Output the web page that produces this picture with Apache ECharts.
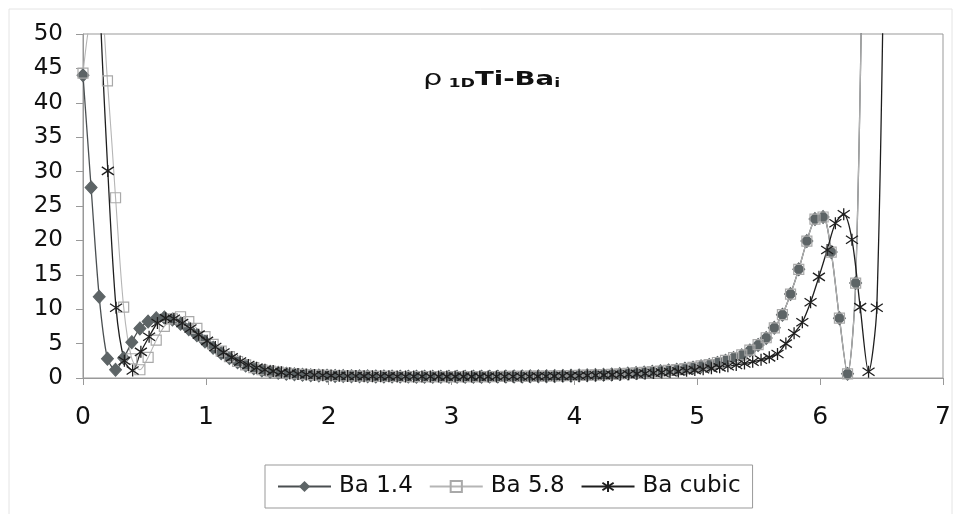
<!DOCTYPE html>
<html>
<head>
<meta charset="utf-8">
<script src="https://cdn.jsdelivr.net/npm/echarts@6/dist/echarts.min.js"></script>
<style>
  html, body { margin: 0; padding: 0; background: #fff; }
  #main { width: 961px; height: 514px; }
</style>
</head>
<body>
<div id="main"></div>
<script>
// x positions of the points (Ba 1.4 and Ba 5.8 share one grid, cubic has its own)
var xBa = [0, 0.066, 0.132, 0.199, 0.265, 0.331, 0.397, 0.463, 0.530, 0.596,
  0.662, 0.728, 0.794, 0.861, 0.927, 0.993, 1.059, 1.125, 1.192, 1.258,
  1.324, 1.390, 1.456, 1.523, 1.589, 1.655, 1.721, 1.787, 1.854, 1.920,
  1.986, 2.052, 2.118, 2.185, 2.251, 2.317, 2.383, 2.449, 2.516, 2.582,
  2.648, 2.714, 2.780, 2.847, 2.913, 2.979, 3.045, 3.111, 3.178, 3.244,
  3.310, 3.376, 3.442, 3.509, 3.575, 3.641, 3.707, 3.773, 3.840, 3.906,
  3.972, 4.038, 4.104, 4.171, 4.237, 4.303, 4.369, 4.435, 4.502, 4.568,
  4.634, 4.700, 4.766, 4.833, 4.899, 4.965, 5.031, 5.097, 5.164, 5.230,
  5.296, 5.362, 5.428, 5.495, 5.561, 5.627, 5.693, 5.759, 5.826, 5.892,
  5.958, 6.024, 6.090, 6.157, 6.223, 6.289, 6.355];

var xCubic = [0, 0.067, 0.135, 0.202, 0.269, 0.337, 0.404, 0.471, 0.538, 0.606,
  0.673, 0.740, 0.808, 0.875, 0.942, 1.010, 1.077, 1.144, 1.211, 1.279,
  1.346, 1.413, 1.481, 1.548, 1.615, 1.683, 1.750, 1.817, 1.884, 1.952,
  2.019, 2.086, 2.154, 2.221, 2.288, 2.356, 2.423, 2.490, 2.557, 2.625,
  2.692, 2.759, 2.827, 2.894, 2.961, 3.029, 3.096, 3.163, 3.230, 3.298,
  3.365, 3.432, 3.500, 3.567, 3.634, 3.702, 3.769, 3.836, 3.903, 3.971,
  4.038, 4.105, 4.173, 4.240, 4.307, 4.375, 4.442, 4.509, 4.576, 4.644,
  4.711, 4.778, 4.846, 4.913, 4.980, 5.048, 5.115, 5.182, 5.249, 5.317,
  5.384, 5.451, 5.519, 5.586, 5.653, 5.721, 5.788, 5.855, 5.922, 5.990,
  6.057, 6.124, 6.192, 6.259, 6.326, 6.394, 6.461, 6.528];

var ba14 = [44.0, 27.7, 11.8, 2.8, 1.2, 2.9, 5.2, 7.2, 8.2, 8.7,
  8.8, 8.5, 7.9, 7.1, 6.2, 5.3, 4.4, 3.6, 2.9, 2.3,
  1.8, 1.4, 1.1, 0.9, 0.75, 0.62, 0.53, 0.46, 0.4, 0.36,
  0.33, 0.3, 0.28, 0.26, 0.25, 0.24, 0.23, 0.22, 0.21, 0.2,
  0.2, 0.19, 0.19, 0.18, 0.18, 0.18, 0.18, 0.18, 0.19, 0.19,
  0.2, 0.2, 0.21, 0.22, 0.23, 0.24, 0.25, 0.27, 0.29, 0.31,
  0.34, 0.37, 0.4, 0.43, 0.47, 0.52, 0.58, 0.65, 0.72, 0.8,
  0.9, 1.0, 1.1, 1.2, 1.35, 1.5, 1.7, 1.9, 2.2, 2.5,
  2.9, 3.3, 4.0, 4.8, 5.8, 7.3, 9.2, 12.2, 15.8, 19.9,
  23.1, 23.4, 18.3, 8.7, 0.6, 13.8, 75];

var ba58 = [44.3, 53, 56, 43.2, 26.2, 10.3, 2.8, 1.2, 3.0, 5.5,
  7.5, 8.6, 8.9, 8.2, 7.2, 6.0, 4.9, 3.9, 3.1, 2.4,
  1.9, 1.5, 1.2, 1.0, 0.85, 0.72, 0.62, 0.54, 0.48, 0.43,
  0.39, 0.36, 0.32, 0.3, 0.28, 0.26, 0.25, 0.24, 0.23, 0.22,
  0.21, 0.21, 0.2, 0.2, 0.2, 0.2, 0.2, 0.2, 0.2, 0.21,
  0.21, 0.22, 0.23, 0.24, 0.25, 0.26, 0.27, 0.29, 0.31, 0.33,
  0.36, 0.39, 0.42, 0.45, 0.49, 0.54, 0.6, 0.67, 0.74, 0.82,
  0.92, 1.02, 1.12, 1.22, 1.37, 1.55, 1.75, 1.95, 2.25, 2.55,
  2.95, 3.35, 4.05, 4.85, 5.85, 7.3, 9.2, 12.2, 15.8, 19.9,
  23.1, 23.4, 18.3, 8.7, 0.6, 13.8, 75];

var baCubic = [150, 100, 56, 30.1, 10.2, 2.5, 1.1, 3.8, 6.0, 8.0,
  8.7, 8.6, 8.0, 7.2, 6.3, 5.4, 4.5, 3.7, 3.0, 2.4,
  1.9, 1.5, 1.2, 1.0, 0.82, 0.68, 0.58, 0.5, 0.44, 0.39,
  0.35, 0.32, 0.3, 0.28, 0.27, 0.26, 0.25, 0.24, 0.23, 0.22,
  0.22, 0.21, 0.21, 0.2, 0.2, 0.2, 0.2, 0.2, 0.2, 0.2,
  0.21, 0.21, 0.22, 0.22, 0.23, 0.24, 0.25, 0.27, 0.29, 0.31,
  0.33, 0.36, 0.39, 0.42, 0.46, 0.5, 0.55, 0.6, 0.66, 0.73,
  0.8, 0.88, 0.96, 1.05, 1.15, 1.27, 1.4, 1.55, 1.72, 1.9,
  2.1, 2.35, 2.65, 3.0, 3.5, 5.0, 6.5, 8.1, 11.0, 14.7,
  18.6, 22.5, 23.8, 20.1, 10.3, 0.9, 10.2, 75];

var seriesNames = ['Ba 1.4', 'Ba 5.8', 'Ba cubic'];

function pairs(xs, ys) {
  return ys.map(function (y, i) { return [xs[i], y]; });
}

var font = 'DejaVu Sans';
var asterisk = 'path://M1,2L11,10M11,2L1,10M6,0L6,12';

var myChart = echarts.init(document.getElementById('main'));

var option = {
  animation: false,
  backgroundColor: '#fff',
  grid: {
    left: 83, right: 18, top: 34, bottom: 136,
    show: true, borderColor: '#999', borderWidth: 1
  },
  graphic: [
    {
      type: 'rect', silent: true, z: -10,
      shape: { x: 9, y: 9, width: 943, height: 510 },
      style: { fill: 'none', stroke: '#e4e4e4', lineWidth: 1 }
    },
    {
      type: 'text', x: 423, y: 90, scaleX: 1.45, originX: 0,
      style: {
        text: '{r|ρ}{s| 1D}{b|Ti-Ba}{s|i}',
        verticalAlign: 'bottom',
        fill: '#111',
        rich: {
          r: { fontFamily: font, fontSize: 21, verticalAlign: 'bottom' },
          s: { fontFamily: font, fontSize: 12, fontWeight: 'bold', verticalAlign: 'bottom' },
          b: { fontFamily: font, fontSize: 19, fontWeight: 'bold', verticalAlign: 'bottom' }
        }
      }
    }
  ],
  legend: {
    data: seriesNames,
    left: 265, top: 465,
    padding: [10, 12, 10, 12],
    borderColor: '#999', borderWidth: 1,
    itemWidth: 53, itemHeight: 14, itemGap: 16,
    textStyle: { fontFamily: font, fontSize: 23, color: '#111', padding: [0, 0, 0, 3] }
  },
  xAxis: {
    type: 'value', min: 0, max: 7, interval: 1,
    axisLine: { lineStyle: { color: '#999' } },
    axisTick: { show: true, length: 7, lineStyle: { color: '#999' } },
    splitLine: { show: false },
    axisLabel: { fontFamily: font, fontSize: 25, color: '#111', margin: 27 }
  },
  yAxis: {
    type: 'value', min: 0, max: 50, interval: 5,
    axisLine: { show: true, lineStyle: { color: '#999' } },
    axisTick: { show: true, length: 7, lineStyle: { color: '#999' } },
    splitLine: { show: false },
    axisLabel: { fontFamily: font, fontSize: 23, color: '#111', margin: 20 }
  },
  series: [
    {
      name: seriesNames[0], type: 'line', smooth: 0.3,
      data: pairs(xBa, ba14),
      symbol: 'diamond', symbolSize: [12, 13],
      lineStyle: { color: '#4a4f51', width: 1.3 },
      itemStyle: { color: '#5d6466', borderColor: '#5d6466' }
    },
    {
      name: seriesNames[1], type: 'line', smooth: 0.3,
      data: pairs(xBa, ba58),
      symbol: 'rect', symbolSize: 10,
      lineStyle: { color: '#b5b5b5', width: 1.1 },
      itemStyle: { color: 'rgba(255,255,255,0)', borderColor: '#a9a9a9', borderWidth: 1.2 }
    },
    {
      name: seriesNames[2], type: 'line', smooth: 0.3,
      data: pairs(xCubic, baCubic),
      symbol: asterisk, symbolSize: 12,
      lineStyle: { color: '#1e1e1e', width: 1.3 },
      itemStyle: { color: 'rgba(0,0,0,0)', borderColor: '#1e1e1e', borderWidth: 1.3 }
    }
  ]
};

myChart.setOption(option);
</script>
</body>
</html>
